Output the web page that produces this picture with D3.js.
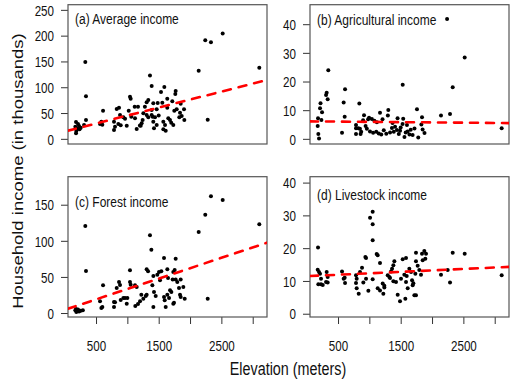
<!DOCTYPE html>
<html><head><meta charset="utf-8">
<script src="https://cdn.jsdelivr.net/npm/d3@7/dist/d3.min.js"></script>
<style>html,body{margin:0;padding:0;background:#fff}svg{display:block}</style>
</head><body><svg id="c" width="516" height="389"></svg>
<script>
// ---------- data ----------
const panelTitles = ["(a) Average income", "(b) Agricultural income", "(c) Forest income", "(d) Livestock income"];
const xTickValues = [500, 1000, 1500, 2000, 2500, 3000];
const xTickLabels = ["500", "", "1500", "", "2500", ""];
const yTicksA = [0, 50, 100, 150, 200, 250];
const yTicksB = [0, 10, 20, 30, 40];
const yTicksC = [0, 50, 100, 150];
const yTicksD = [0, 10, 20, 30, 40];
const trendIntercept = [14.2, 6.11, 4.47, 11.45];
const trendSlope = [0.03093, -0.000189, 0.02879, 0.000882];

const elevA = [181,213,170,229,202,256,186,181,237,309,340,329,340,564,585,601,612,787,803,787,830,867,856,894,883,936,963,990,1022,1042,1053,1063,1117,1170,1149,1122,1244,1228,1213,1255,1308,1334,1334,1308,1361,1388,1388,1388,1414,1484,1558,1537,1590,1637,1717,1771,1765,1851,1637,1749,1787,1904,1840,1867,1829,1909,1468,1403,1441,1414,1425,1468,1574,1601,1574,1612,1653,1680,1700,1733,1200,1280,1500,2138,2243,2334,2521,2282,3105];
const incomeA = [32.7,28.8,23.6,25,19.7,21.6,15.2,10.8,18.5,26.9,36.6,149,82.5,28.8,33.3,27.4,54.6,33.3,23.6,17.2,57.9,60.4,28.8,26.3,46.2,41.8,39.1,25.5,54.6,81.7,77.8,43,62.3,62.3,19.1,39.8,36.6,30.2,25.5,49.5,46.2,41.8,75.3,70.8,123,102.4,55.9,46.2,69,69.5,70,90.8,100.5,77.8,72.8,92.8,87,68.1,60.4,54.6,57.3,57.3,50.7,44.3,41.8,36.6,57.3,43,41.8,33.3,20.5,26.9,33.3,26.9,18.5,15.8,39.8,36.6,31.3,26.9,26,62,45,132,191,187,204,37,138];

const elevB = [181,176,186,197,213,221,245,235,309,319,335,345,564,590,612,606,840,787,787,787,824,850,870,860,900,915,940,960,980,995,1040,1170,1302,1295,1010,1060,1110,1150,1190,1230,1532,1450,1540,1530,1360,1390,1410,1440,1470,1490,1330,1270,1560,1580,1610,1640,1660,1690,1720,1760,1840,1830,1850,1880,1780,1600,1500,1370,1210,1120,1080,2143,2287,2330,2240,2521,3111];
const incomeB = [7.2,4.5,1.7,0.1,10.7,12.4,9.3,6.6,15.3,16.1,13.8,23.9,2.1,12.7,17.3,7.7,12.3,4.8,3.7,1.7,3.7,3.5,2.5,1.7,6.5,8.2,4.5,3.5,6.8,7.4,6.9,9.1,10.1,8.1,2.6,2.1,2.5,1.9,1.5,3,18.9,7.2,7.0,5.2,3.8,2.5,4.2,3.1,1.7,2.8,2.2,1.8,0.6,2.2,2.6,1.5,3.2,1.3,3.6,10.3,7.5,5,3.3,2,0.5,4.8,4,5.5,6.8,5.8,6.3,8.1,8.7,18,41.8,28.4,3.7];

const elevC = [170,181,197,186,213,229,290,255,329,340,564,585,601,612,787,787,803,830,867,883,894,936,963,1000,990,1042,1053,1042,1122,1149,1127,1170,1202,1223,1255,1293,1308,1308,1330,1361,1383,1399,1415,1425,1452,1415,1478,1505,1521,1542,1585,1612,1585,1596,1638,1665,1681,1702,1638,1649,1723,1733,1755,1771,1771,1797,1824,1851,1840,1851,1893,1915,1744,1733,2138,2243,2334,2521,2282,3105];
const incomeC = [4,5.5,3,1.5,5,2,4,3,120.5,58.2,16.2,6.9,8.3,38.3,15.2,8.3,15,34.6,43,38.8,18,20.8,20.8,20.8,13,43,39.2,59.1,38.3,36,9.7,12.5,16.2,25.4,19.8,23.5,25.4,60.5,57.8,107.6,87.7,38.3,51.2,29.1,23.5,8.3,53,56.8,45.3,57.8,76.2,8.3,22.2,17.6,25.4,20.8,31.4,29.1,60.5,48.5,46.6,56.8,59.6,75.2,46.6,43,34.6,46.6,25.4,22.2,36,19.8,14.3,12.7,112.2,136.2,161.6,156.5,19.8,122.8];

const elevD = [181,176,197,213,229,186,229,256,309,319,335,335,564,590,612,606,787,798,787,798,830,851,883,904,947,984,936,947,1011,1053,1053,1053,1053,1117,1133,1170,1133,1170,1213,1239,1223,1239,1293,1319,1330,1346,1362,1383,1399,1383,1425,1452,1489,1505,1532,1558,1574,1585,1612,1596,1585,1638,1665,1681,1691,1718,1744,1734,1744,1744,1771,1797,1824,1840,1851,1877,1893,1904,1702,2143,2250,2287,2330,2521,3111];
const incomeD = [20.2,13.4,12.7,12.2,10.7,9.0,9.0,8.8,9.7,12.7,11.2,9.5,12.9,10.7,9.4,11,11.7,10.7,9.4,7.8,6.1,12.7,14.0,9.5,10.7,7.0,17.3,17.0,29.3,31.1,27.3,22.4,10.5,18.2,17.8,15.5,7.8,7.1,9.2,8.5,6.1,8.0,11.7,11.2,10.9,12.9,13.7,14.8,16.0,9.9,9.7,5.8,3.8,10.7,16.6,11.9,4.6,17.0,7.8,11.5,9.7,13.7,12.7,10.2,8.7,5.6,5.6,12.2,16.0,18.6,14.6,13.3,11.9,18.3,16.3,19.1,16.8,18.3,9.3,11.9,13.3,9.5,18.6,18.3,11.7];

// ---------- layout ----------
const svg = d3.select("#c");
svg.append("rect").attr("width",516).attr("height",389).attr("fill","#fff");
const FONT = "'Liberation Sans', Arial, Helvetica, sans-serif";
const SX = 0.8;
const xDomain = [53, 3228];
const panels = [
  {x0:68, x1:267, y0:4.7, y1:144, yDom:[-10,260], ticks:yTicksA, ex:elevA, vals:incomeA, lab:[75,24], bottom:false},
  {x0:310, x1:509, y0:4.7, y1:144, yDom:[-1.8,46.8], ticks:yTicksB, ex:elevB, vals:incomeB, lab:[317,25], bottom:false},
  {x0:68, x1:267, y0:176.7, y1:317, yDom:[-5.5,188.8], ticks:yTicksC, ex:elevC, vals:incomeC, lab:[75,207], bottom:true},
  {x0:310, x1:509, y0:176.7, y1:317, yDom:[-1.0,41.8], ticks:yTicksD, ex:elevD, vals:incomeD, lab:[317,200], bottom:true}
];

panels.forEach((p, i) => {
  const x = d3.scaleLinear().domain(xDomain).range([p.x0, p.x1]);
  const y = d3.scaleLinear().domain(p.yDom).range([p.y1, p.y0]);
  const g = svg.append("g");

  // y axis
  const ya = g.append("g").attr("transform", `translate(${p.x0},0)`)
    .call(d3.axisLeft(y).tickValues(p.ticks).tickSize(7).tickFormat(d3.format("d")));
  ya.select(".domain").remove();
  ya.selectAll("line").attr("stroke","#333");
  ya.selectAll("text").attr("font-family",FONT).attr("font-size",14.5).attr("fill","#111")
    .attr("x", -14/SX).attr("dy","0.36em").attr("transform",`scale(${SX},1)`);

  // x axis (bottom row only)
  if (p.bottom) {
    const xa = g.append("g").attr("transform", `translate(0,${p.y1})`)
      .call(d3.axisBottom(x).tickValues(xTickValues).tickSize(7)
        .tickFormat((d, k) => xTickLabels[k]));
    xa.select(".domain").remove();
    xa.selectAll("line").attr("stroke","#333");
    xa.selectAll("text").attr("font-family",FONT).attr("font-size",14.5).attr("fill","#111")
      .attr("y", 34.5).attr("dy","0").attr("transform",`scale(${SX},1)`)
      .attr("x", function(){ return 0; });
    // scale around each tick position: tick groups are translated, so scaling about local origin is fine
  }

  // box
  g.append("rect").attr("x",p.x0).attr("y",p.y0).attr("width",p.x1-p.x0).attr("height",p.y1-p.y0)
    .attr("fill","none").attr("stroke","#555").attr("stroke-width",1.2);

  // clip
  const cid = "clip"+i;
  svg.append("clipPath").attr("id",cid).append("rect")
    .attr("x",p.x0).attr("y",p.y0).attr("width",p.x1-p.x0).attr("height",p.y1-p.y0);

  // points
  g.append("g").selectAll("circle").data(p.ex.map((e,k)=>[e,p.vals[k]])).join("circle")
    .attr("cx", d=>x(d[0])).attr("cy", d=>y(d[1])).attr("r",2).attr("fill","#000");

  // trend line
  const line = d3.line().x(d=>x(d)).y(d=>y(trendIntercept[i] + trendSlope[i]*d));
  g.append("path").attr("d", line(xDomain)).attr("clip-path",`url(#${cid})`)
    .attr("fill","none").attr("stroke","#ff0000").attr("stroke-width",2.6)
    .attr("stroke-dasharray","8,8").attr("stroke-linecap","round");

  // panel label
  g.append("text").attr("transform",`translate(${p.lab[0]},${p.lab[1]}) scale(${SX},1)`)
    .attr("font-family",FONT).attr("font-size",15).attr("fill","#111").text(panelTitles[i]);
});

// axis titles
svg.append("text").attr("transform","translate(288,375) scale(0.82,1)").attr("text-anchor","middle")
  .attr("font-family",FONT).attr("font-size",17.5).attr("fill","#111").text("Elevation (meters)");
svg.append("text").attr("transform","translate(23,171) rotate(-90) scale(1,0.8)").attr("text-anchor","middle")
  .attr("font-family",FONT).attr("font-size",18.5).attr("fill","#111").text("Household income (in thousands)");
</script></body></html>
